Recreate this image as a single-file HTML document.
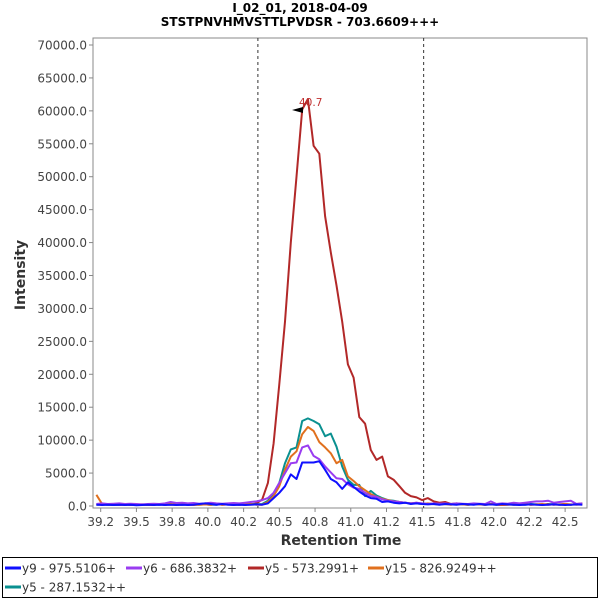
<!DOCTYPE html>
<html><head><meta charset="utf-8"><style>
html,body{margin:0;padding:0;background:#fff;width:600px;height:600px;overflow:hidden;font-family:"DejaVu Sans","Liberation Sans",sans-serif}
svg text{font-family:"DejaVu Sans","Liberation Sans",sans-serif}
</style></head><body>
<svg id="chart" width="600" height="600" xmlns="http://www.w3.org/2000/svg">
<text x="300" y="12" text-anchor="middle" font-size="12" font-weight="bold" fill="#000">I_02_01, 2018-04-09</text>
<text x="300" y="26" text-anchor="middle" font-size="12" font-weight="bold" fill="#000">STSTPNVHMVSTTLPVDSR - 703.6609+++</text>
<rect x="93" y="38" width="494" height="470" fill="#fff" stroke="#888" stroke-width="1"/>
<g id="yaxis"></g>
<g id="xaxis"></g>
<g id="markers"></g>
<g id="series"></g>
<text x="0" y="0" transform="translate(25,275) rotate(-90)" text-anchor="middle" font-size="14" font-weight="bold" fill="#333">Intensity</text>
<text x="341" y="545" text-anchor="middle" font-size="14" font-weight="bold" fill="#333">Retention Time</text>
<g>
<polygon points="292,110 303,107 303,113" fill="#000"/>
<text x="299" y="106" font-size="10.5" fill="#c03030">40.7</text>
</g>
<rect x="2.5" y="557.5" width="595" height="40" fill="#fff" stroke="#000"/>
<g id="legend"></g>
</svg>
<script>
const yTicks=[0,5000,10000,15000,20000,25000,30000,35000,40000,45000,50000,55000,60000,65000,70000];
const xTickVals=[39.25,39.5,39.75,40.0,40.25,40.5,40.75,41.0,41.25,41.5,41.75,42.0,42.25,42.5];
const xTickLabels=["39.2","39.5","39.8","40.0","40.2","40.5","40.8","41.0","41.2","41.5","41.8","42.0","42.2","42.5"];
const markerTimes=[40.35,41.51];
const times=[39.22,39.26,39.30,39.34,39.38,39.42,39.46,39.50,39.54,39.58,39.62,39.66,39.70,39.74,39.78,39.82,39.86,39.90,39.94,39.98,40.02,40.06,40.10,40.14,40.18,40.22,40.26,40.30,40.34,40.38,40.42,40.46,40.50,40.54,40.58,40.62,40.66,40.70,40.74,40.78,40.82,40.86,40.90,40.94,40.98,41.02,41.06,41.10,41.14,41.18,41.22,41.26,41.30,41.34,41.38,41.42,41.46,41.50,41.54,41.58,41.62,41.66,41.70,41.74,41.78,41.82,41.86,41.90,41.94,41.98,42.02,42.06,42.10,42.14,42.18,42.22,42.26,42.30,42.34,42.38,42.42,42.46,42.50,42.54,42.58,42.62];
const red=[300,200,250,150,200,300,150,200,250,200,150,300,200,250,200,300,250,200,300,250,200,300,200,250,300,200,300,250,400,
1000,3500,9500,18500,28000,40000,50000,60200,61800,54700,53500,44000,38500,33500,28000,21500,19500,13500,12500,8500,7000,7500,4500,4000,3000,2000,1500,1300,900,1200,700,500,600,300,
400,300,200,300,250,200,300,200,150,200,250,200,300,200,250,200,300,200,250,300,200,300,400];
const teal=[200,250,200,150,200,250,200,150,200,200,250,200,300,250,200,200,250,300,200,250,200,200,300,250,200,250,200,300,250,
300,800,1800,3500,6500,8600,8900,12900,13300,12900,12400,10600,11000,9000,6000,4000,3200,3200,1500,2300,1600,1200,900,800,600,500,400,400,300,350,300,250,300,250,
300,250,200,250,300,200,250,200,300,250,200,250,200,300,250,200,250,300,200,250,200,300,250];
const orange=[1700,300,200,250,200,150,200,250,200,150,200,250,200,300,200,250,200,150,200,250,200,300,200,250,200,200,250,300,200,
200,600,1500,3000,5500,7500,8300,10900,12000,11400,9700,8900,8000,6500,7000,4500,3800,3000,2400,1800,1400,1100,900,700,600,500,400,500,300,400,300,250,300,200,
300,250,200,300,250,200,300,250,200,300,200,250,300,200,250,300,200,250,200,300,250,200,250];
const purple=[300,400,300,350,400,300,350,300,250,300,350,300,400,600,450,500,400,450,350,400,500,400,350,400,450,400,500,600,700,
900,1200,2000,3500,5000,6500,6600,8900,9200,7600,7100,6000,5100,4200,4100,3300,2800,2600,2000,1500,1400,1000,800,700,600,500,400,500,400,300,400,350,400,300,
400,350,300,400,350,300,700,300,400,350,500,400,500,600,700,700,800,500,600,700,800,300,400];
const blue=[200,150,200,150,200,150,200,100,150,200,150,200,150,200,150,200,150,200,300,400,300,200,300,200,150,200,150,200,250,
200,400,1200,2000,3000,4800,4100,6600,6600,6600,6800,5500,4100,3600,2600,3600,2900,2200,1600,1200,1100,600,700,500,400,500,300,400,300,250,300,200,300,250,
200,300,250,200,300,200,250,200,300,250,200,150,200,250,200,150,200,250,200,150,200,250,200];
const seriesNames=["y9 - 975.5106+","y6 - 686.3832+","y5 - 573.2991+","y15 - 826.9249++","y5 - 287.1532++"];
const seriesColors=["#1010ff","#9a3cf0","#b22828","#e0701e","#0a9090"];

const NS="http://www.w3.org/2000/svg";
function x(v){return 100.7+(v-39.25)*142.9;}
function y(v){return 506-v*461/70000;}
function mk(tag,attrs,parent){const e=document.createElementNS(NS,tag);for(const k in attrs)e.setAttribute(k,attrs[k]);parent.appendChild(e);return e;}

const ya=document.getElementById('yaxis');
yTicks.forEach(t=>{
  const l=mk('line',{x1:89,x2:93,y1:y(t),y2:y(t),stroke:'#888'},ya);
  
  
  const tx=mk('text',{x:87,y:y(t)+4.5,'text-anchor':'end','font-size':12,fill:'#444'},ya);
  tx.textContent=t.toFixed(1);
  
  
});
const xa=document.getElementById('xaxis');
xTickVals.forEach((t,i)=>{
  const l=mk('line',{x1:x(t),x2:x(t),y1:508,y2:512,stroke:'#888'},xa);
  
  
  const tx=mk('text',{x:x(t),y:526,'text-anchor':'middle','font-size':12,fill:'#444'},xa);
  tx.textContent=xTickLabels[i];
  
  
});
const mg=document.getElementById('markers');
markerTimes.forEach(t=>{
  const l=mk('line',{x1:x(t),x2:x(t),y1:38,y2:508,stroke:'#333','stroke-dasharray':'3,3','stroke-width':1},mg);
  
  
});
const sg=document.getElementById('series');
const data=[blue,purple,red,orange,teal];
const drawOrder=[2,4,3,1,0];
drawOrder.forEach(si=>{
  const vals=data[si];
  const pts=times.map((t,i)=>x(t).toFixed(1)+','+y(vals[i]).toFixed(1)).join(' ');
  const p=mk('polyline',{points:pts,fill:'none',stroke:seriesColors[si],'stroke-width':2,'stroke-linejoin':'round'},sg);
  
  
});
const lg=document.getElementById('legend');
const lpos=[[5,568],[126,568],[248,568],[368,568],[5,587]];
seriesNames.forEach((n,i)=>{
  const g=mk('g',{},lg);
  
  
  mk('line',{x1:lpos[i][0],x2:lpos[i][0]+16,y1:lpos[i][1],y2:lpos[i][1],stroke:seriesColors[i],'stroke-width':3},g);
  const t=mk('text',{x:lpos[i][0]+17,y:lpos[i][1]+4.5,'font-size':12,fill:'#333'},g);
  t.textContent=n;
});
</script>
</body></html>
